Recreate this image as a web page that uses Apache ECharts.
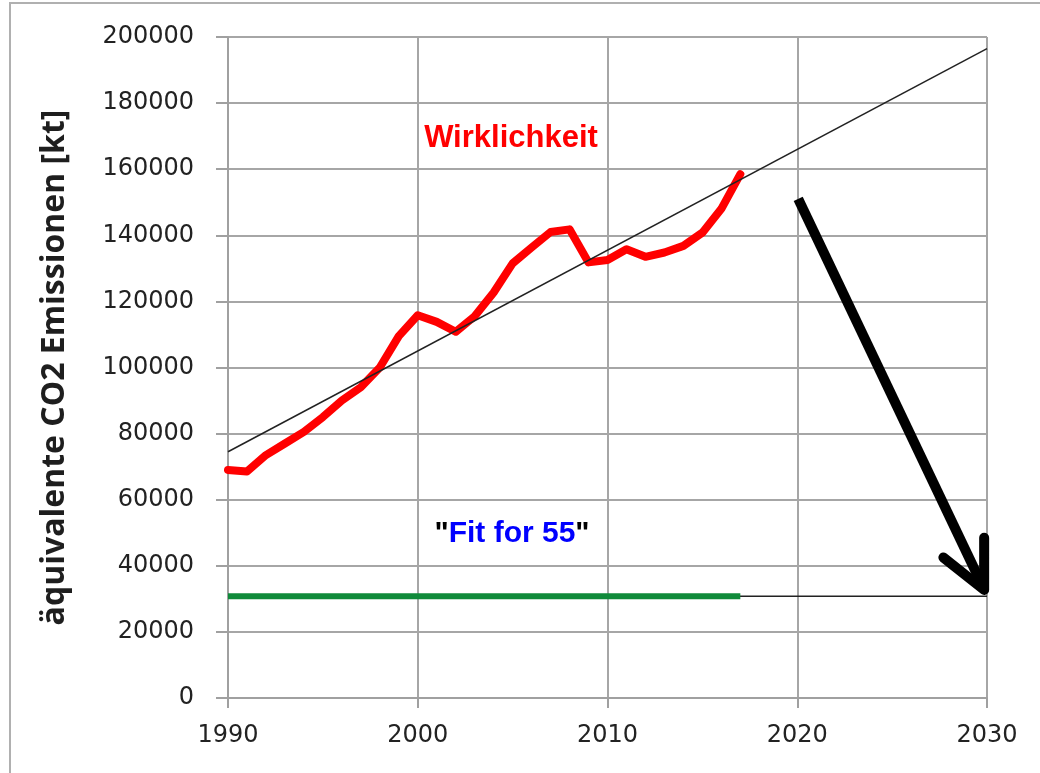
<!DOCTYPE html>
<html>
<head>
<meta charset="utf-8">
<script src="https://cdn.jsdelivr.net/npm/echarts@6/dist/echarts.min.js"></script>
<style>
  html, body { margin: 0; padding: 0; background: #fff; }
  #chart { width: 1040px; height: 773px; }
</style>
</head>
<body>
<div id="chart"></div>
<script>
// Jahre mit Messwerten
const years = [1990, 1991, 1992, 1993, 1994, 1995, 1996, 1997, 1998, 1999,
  2000, 2001, 2002, 2003, 2004, 2005, 2006, 2007, 2008, 2009,
  2010, 2011, 2012, 2013, 2014, 2015, 2016, 2017];
// Wirklichkeit (kt CO2-Äquivalente)
const emissions = [69000, 68500, 73500, 77000, 80500, 85000, 90000, 94000, 100000, 109500,
  115800, 113800, 110800, 115500, 122700, 131500, 136300, 141000, 141800, 131800,
  132500, 135800, 133500, 134800, 136800, 140800, 148000, 158500];

// linearer Trend
const trendYears = [1990, 2030];
const trendValues = [74500, 196500];

// "Fit for 55" Ziel
const targetValue = 30800;
const targetYears = [1990, 2017];
const targetLineYears = [1990, 2030];

// Pfeil (in Achsenwerten)
const arrowShaft = [[2020.05, 151000], [2029.8, 33500]];
const arrowHead = [[2027.7, 42500], [2029.85, 32700], [2029.85, 48500]];

const xTicks = [1990, 2000, 2010, 2020, 2030];

const chart = echarts.init(document.getElementById("chart"));

const lineSeries = (data, color, width, z, cap) => ({
  type: "line",
  data: data,
  showSymbol: false,
  symbol: "none",
  animation: false,
  z: z,
  lineStyle: { color: color, width: width, cap: cap || "butt", join: "round" },
});

chart.setOption({
  animation: false,
  grid: { left: 228, right: 53, top: 37, bottom: 75 },
  xAxis: {
    type: "value",
    min: xTicks[0],
    max: xTicks[xTicks.length - 1],
    interval: 10,
    axisLine: { lineStyle: { color: "#a0a0a0", width: 2 } },
    axisTick: { show: true, length: 10, lineStyle: { color: "#a0a0a0", width: 2 } },
    splitLine: { show: true, lineStyle: { color: "#a6a6a6", width: 2 } },
    axisLabel: {
      margin: 26,
      color: "#222",
      fontFamily: "DejaVu Sans",
      fontSize: 24,
      formatter: (v) => String(v),
    },
  },
  yAxis: {
    type: "value",
    min: 0,
    max: 200000,
    interval: 20000,
    name: "äquivalente CO2 Emissionen [kt]",
    nameLocation: "middle",
    nameGap: 157,
    nameTextStyle: {
      color: "#1e1e1e",
      fontFamily: "Open Sans",
      fontWeight: "bold",
      fontSize: 32,
    },
    axisLine: { show: true, lineStyle: { color: "#a0a0a0", width: 2 } },
    axisTick: { show: true, length: 12, lineStyle: { color: "#a0a0a0", width: 2 } },
    splitLine: { show: true, lineStyle: { color: "#a6a6a6", width: 2 } },
    axisLabel: {
      margin: 34,
      color: "#222",
      fontFamily: "DejaVu Sans",
      fontSize: 24,
      formatter: (v) => String(v),
    },
  },
  series: [
    lineSeries(targetLineYears.map((y) => [y, targetValue]), "#222", 1.5, 2),
    lineSeries(targetYears.map((y) => [y, targetValue]), "#108a3a", 6, 3),
    lineSeries(trendYears.map((y, i) => [y, trendValues[i]]), "#222", 1.5, 4),
    lineSeries(years.map((y, i) => [y, emissions[i]]), "#ff0000", 8, 3, "round"),
    lineSeries(arrowShaft, "#000", 10, 6),
    lineSeries(arrowHead, "#000", 10, 6, "round"),
  ],
  graphic: [
    {
      type: "rect",
      shape: { x: 10, y: 3, width: 1100, height: 900 },
      style: { fill: "none", stroke: "#b0b0b0", lineWidth: 2 },
      silent: true,
    },
    {
      type: "text",
      x: 511,
      y: 138,
      style: {
        text: "Wirklichkeit",
        fill: "#ff0000",
        font: "bold 31px 'Liberation Sans', Arial, sans-serif",
        align: "center",
        verticalAlign: "middle",
      },
    },
    {
      type: "text",
      x: 512,
      y: 534,
      style: {
        text: '{q|"}{b|Fit for 55}{q|"}',
        align: "center",
        verticalAlign: "middle",
        rich: {
          q: { fill: "#000", font: "bold 30px 'Liberation Sans', Arial, sans-serif" },
          b: { fill: "#0000ff", font: "bold 30px 'Liberation Sans', Arial, sans-serif" },
        },
      },
    },
  ],
});
</script>
</body>
</html>
